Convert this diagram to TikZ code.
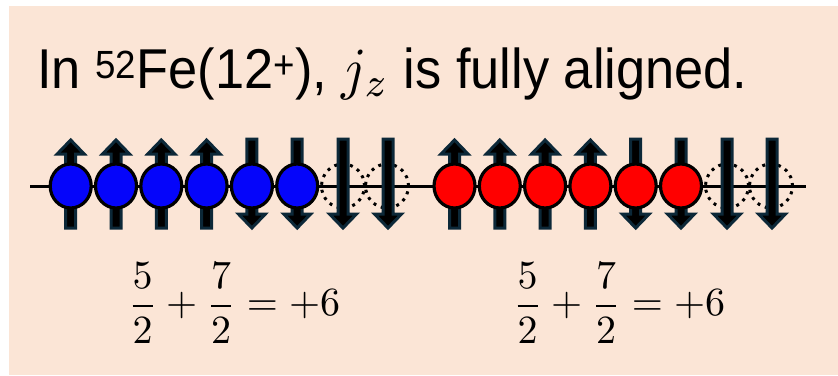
\documentclass[tikz,border=0pt]{standalone}
\usepackage{graphicx}
\usepackage[no-math]{fontspec}
\setmainfont{Liberation Sans}
\usetikzlibrary{shapes.geometric}
\definecolor{peach}{RGB}{251,229,214}
\definecolor{spinedge}{RGB}{12,40,56}
\definecolor{pblue}{RGB}{5,5,250}
\definecolor{pred}{RGB}{255,0,0}
\tikzset{
  nucleon/.style={ellipse, draw=black, line width=3.2pt, minimum width=41pt, minimum height=44pt, inner sep=0pt},
  hole/.style={ellipse, draw=black, line width=3pt, dash pattern=on 3pt off 5pt, minimum width=43pt, minimum height=44pt, inner sep=0pt},
  spin/.style={fill=black, draw=spinedge, line width=3pt, line join=miter},
  axis/.style={line width=3pt, black},
  eqn/.style={inner sep=0pt, scale=4},
}
% up arrow: #1 = x, top 140, bottom 228
\newcommand\upspin[1]{%
  \path[spin] (#1-5,228) -- (#1-5,154) -- (#1-13.5,154) -- (#1,140) -- (#1+13.5,154) -- (#1+5,154) -- (#1+5,228) -- cycle;}
\newcommand\downspin[1]{%
  \path[spin] (#1-5,139) -- (#1-5,214) -- (#1-13.5,214) -- (#1,228) -- (#1+13.5,214) -- (#1+5,214) -- (#1+5,139) -- cycle;}
\begin{document}
\begin{tikzpicture}[x=1pt,y=-1pt]
\useasboundingbox (0,0) rectangle (838,375);
\fill[peach] (9,6) rectangle (838,375);
% title
\node[anchor=base west, inner sep=0pt, xscale=0.97, yscale=1.04, font=\fontsize{54}{60}\selectfont] (title) at (37,88)
  {In \textsuperscript{52}Fe(12\textsuperscript{+}), \scalebox{5.6}{\fontsize{10}{12}\selectfont$j_z$} is fully aligned.};
% axis
\coordinate (axL) at (30,186);
\coordinate (axR) at (806,186);
% holes (dotted) under the axis
\node[hole] (bh1) at (343,186) {};
\node[hole] (bh2) at (387,186) {};
\node[hole] (rh1) at (727,186) {};
\node[hole] (rh2) at (771,186) {};
\draw[axis] (axL) -- (axR);
% spins
\foreach \x in {70.7,116,161.3,206.6,454.5,499.8,545.1,590.4} {\upspin{\x}}
\foreach \x in {251.9,297.2,343,388,635.7,681,727,772} {\downspin{\x}}
% nucleons
\foreach \x [count=\i] in {70.7,116,161.3,206.6,251.9,297.2}
  \node[nucleon, fill=pblue] (b\i) at (\x,186) {};
\foreach \x [count=\i] in {454.5,499.8,545.1,590.4,635.7,681}
  \node[nucleon, fill=pred] (r\i) at (\x,186) {};
% equations
\node[eqn] (eqL) at (234,303) {$\displaystyle\frac{5}{2}+\frac{7}{2}=+6$};
\node[eqn] (eqR) at (619,303) {$\displaystyle\frac{5}{2}+\frac{7}{2}=+6$};
\end{tikzpicture}
\end{document}
